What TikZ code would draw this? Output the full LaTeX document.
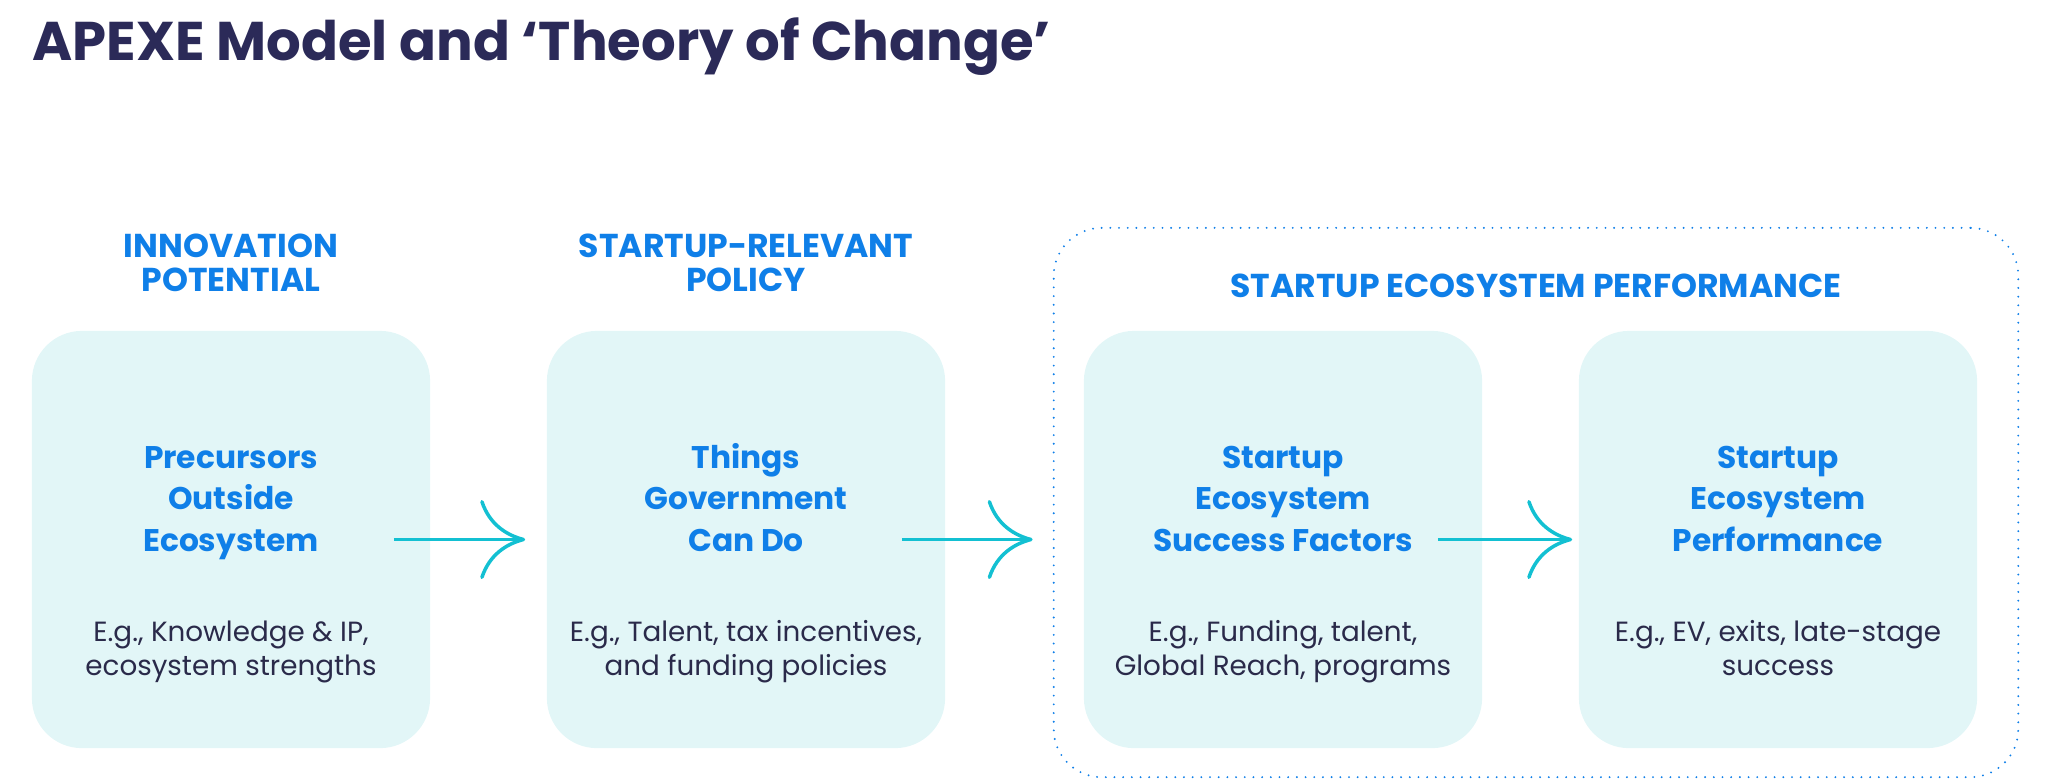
\documentclass[tikz,border=0pt]{standalone}
\usepackage{fontspec}
\setmainfont{Poppins}
\usetikzlibrary{arrows.meta}

\definecolor{navy}{HTML}{2B2A58}
\definecolor{apexblue}{HTML}{0F7FE8}
\definecolor{inkblue}{HTML}{2A2A4A}
\definecolor{boxfill}{HTML}{E2F6F7}
\definecolor{flowcyan}{HTML}{13C0D2}

\tikzset{
  box/.style={fill=boxfill, rounded corners=0.5cm, minimum width=3.98cm, minimum height=4.17cm, inner sep=0pt},
  head/.style={text=apexblue, font=\bfseries\fontsize{9.4}{9.7}\selectfont, align=center},
  main/.style={text=apexblue, font=\bfseries\fontsize{8.9}{11.7}\selectfont, align=center, anchor=base},
  note/.style={text=inkblue, font=\fontsize{7.9}{9.4}\selectfont, align=center, anchor=base},
  flow/.style={draw=flowcyan, line width=1pt, -{Computer Modern Rightarrow[length=12.8pt,width=22.5pt]}},
  frame/.style={draw=apexblue, line width=0.6pt, dash pattern=on 0pt off 2.47pt, line cap=round, rounded corners=0.48cm, minimum width=9.64cm, minimum height=5.49cm, inner sep=0pt}
}

\begin{document}
\begin{tikzpicture}[x=0.01cm, y=-0.01cm]
            \useasboundingbox (0,0) rectangle (2048,781);

            %Title
            \node[anchor=base west, inner sep=0pt, text=navy, font=\bfseries\fontsize{15.5}{18}\selectfont] at (32,60) (title) {APEXE Model and ‘Theory of Change’};

            %Frame
            \node[frame] at (1536,502.5) (perf) {};

            %Boxes
            \node[box] at (231,539.5) (precursors) {};
            \node[box] at (746,539.5) (policy) {};
            \node[box] at (1283,539.5) (factors) {};
            \node[box] at (1778,539.5) (outcome) {};

            %Headings
            \node[head] at (231,263) (hpotential) {INNOVATION\\POTENTIAL};
            \node[head] at (746,263) (hpolicy) {STARTUP-RELEVANT\\POLICY};
            \node[head] at (1536,286) (hperf) {STARTUP ECOSYSTEM PERFORMANCE};

            %Box texts
            \node[main] at (231,551) (tprecursors) {Precursors\\Outside\\Ecosystem};
            \node[main] at (746,551) (tpolicy) {Things\\Government\\Can Do};
            \node[main] at (1283,551) (tfactors) {Startup\\Ecosystem\\Success Factors};
            \node[main] at (1778,551) (toutcome) {Startup\\Ecosystem\\Performance};

            \node[note] at (231,675) (nprecursors) {E.g., Knowledge \& IP,\\ecosystem strengths};
            \node[note] at (746,675) (npolicy) {E.g., Talent, tax incentives,\\and funding policies};
            \node[note] at (1283,675) (nfactors) {E.g., Funding, talent,\\Global Reach, programs};
            \node[note] at (1778,675) (noutcome) {E.g., EV, exits, late-stage\\success};

            %Arrows
            \draw[flow] ([xshift=-37*0.01cm]precursors.east) -- ([xshift=-21*0.01cm]policy.west);
            \draw[flow] ([xshift=-44*0.01cm]policy.east) -- ([xshift=-20*0.01cm]perf.west |- policy.east);
            \draw[flow] ([xshift=-45*0.01cm]factors.east) -- ([xshift=-6*0.01cm]outcome.west);
        \end{tikzpicture}
\end{document}
